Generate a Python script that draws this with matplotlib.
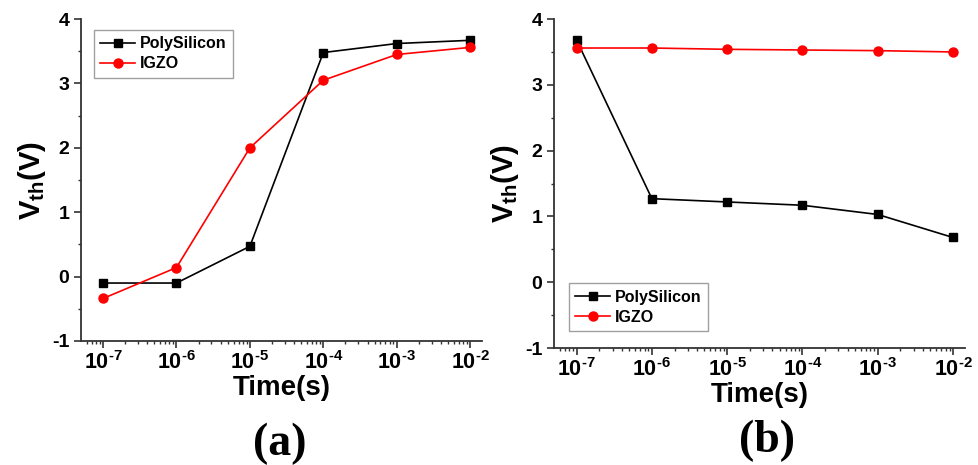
"""Vth vs stress time for PolySilicon and IGZO TFTs, panels (a) and (b)."""

import matplotlib
matplotlib.use("Agg")
import matplotlib.pyplot as plt
from matplotlib.ticker import LogLocator, MultipleLocator, FixedLocator

plt.rcParams["font.family"] = ["Liberation Sans", "DejaVu Sans"]
plt.rcParams["font.weight"] = "bold"
plt.rcParams["axes.unicode_minus"] = False
plt.rcParams["mathtext.fontset"] = "custom"
plt.rcParams["mathtext.rm"] = "Liberation Sans:bold"
plt.rcParams["mathtext.bf"] = "Liberation Sans:bold"
plt.rcParams["mathtext.it"] = "Liberation Sans:bold"

# --- Data ------------------------------------------------------------------
time_s = [1e-7, 1e-6, 1e-5, 1e-4, 1e-3, 1e-2]

poly_a = [-0.10, -0.10, 0.47, 3.48, 3.62, 3.67]
igzo_a = [-0.34, 0.14, 2.00, 3.05, 3.45, 3.56]

poly_b = [3.68, 1.27, 1.22, 1.17, 1.03, 0.68]
igzo_b = [3.56, 3.56, 3.54, 3.53, 3.52, 3.50]

x_ticks = [1e-7, 1e-6, 1e-5, 1e-4, 1e-3, 1e-2]
x_exponents = ["-7", "-6", "-5", "-4", "-3", "-2"]
y_ticks = [-1, 0, 1, 2, 3, 4]
y_tick_labels = ["-1", "0", "1", "2", "3", "4"]

POLY_COLOR = "black"
IGZO_COLOR = "#ff0000"

fig = plt.figure(figsize=(9.79, 4.65), dpi=100)
ax_a = fig.add_axes([0.0827, 0.2667, 0.4096, 0.6923])
ax_b = fig.add_axes([0.5659, 0.2516, 0.4198, 0.7074])


def style_axis(ax, poly, igzo, legend_loc, legend_anchor):
    ax.plot(time_s, poly, color=POLY_COLOR, marker="s", markersize=6,
            linewidth=1.2, label="PolySilicon")
    ax.plot(time_s, igzo, color=IGZO_COLOR, marker="o", markersize=6.5,
            linewidth=1.2, label="IGZO")
    ax.set_xscale("log")
    ax.set_xlim(10 ** -7.3, 10 ** -1.84)
    ax.set_ylim(-1, 4)
    ax.xaxis.set_major_locator(FixedLocator(x_ticks))
    ax.set_xticklabels([r"$\mathbf{10^{\text{%s}}}$" % e for e in x_exponents],
                       fontsize=15.5)
    ax.xaxis.set_minor_locator(LogLocator(base=10, subs=range(2, 10), numticks=20))
    ax.yaxis.set_major_locator(FixedLocator(y_ticks))
    ax.set_yticklabels(y_tick_labels, fontsize=14, fontweight="bold")
    ax.yaxis.set_minor_locator(MultipleLocator(0.5))
    ax.spines["top"].set_visible(False)
    ax.spines["right"].set_visible(False)
    for s in ("left", "bottom"):
        ax.spines[s].set_linewidth(1.3)
        ax.spines[s].set_color("#333333")
    ax.tick_params(which="major", direction="out", length=5, width=1.2,
                   colors="#333333", labelcolor="black")
    ax.tick_params(axis="x", which="major", pad=2)
    ax.tick_params(which="minor", direction="out", length=2.5, width=1.0,
                   colors="#333333")
    ax.set_xlabel("Time(s)", fontsize=20, fontweight="bold", labelpad=1)
    ax.set_ylabel(r"$\mathbf{V_{th}(V)}$", fontsize=21, labelpad=3)
    leg = ax.legend(loc=legend_loc, bbox_to_anchor=legend_anchor,
                    frameon=True, fancybox=False,
                    edgecolor="#888888", handlelength=2.2, handletextpad=0.3,
                    borderpad=0.4, labelspacing=0.3, borderaxespad=0,
                    prop={"weight": "bold", "size": 11.5})
    leg.get_frame().set_linewidth(1.0)


style_axis(ax_a, poly_a, igzo_a, "upper left", (0.032, 0.966))
style_axis(ax_b, poly_b, igzo_b, "lower left", (0.036, 0.052))

fig.text(0.286, 0.045, "(a)", fontsize=33, fontweight="bold",
         family="Liberation Serif", ha="center", va="center")
fig.text(0.783, 0.052, "(b)", fontsize=33, fontweight="bold",
         family="Liberation Serif", ha="center", va="center")

fig.savefig("out.png", dpi=100)
